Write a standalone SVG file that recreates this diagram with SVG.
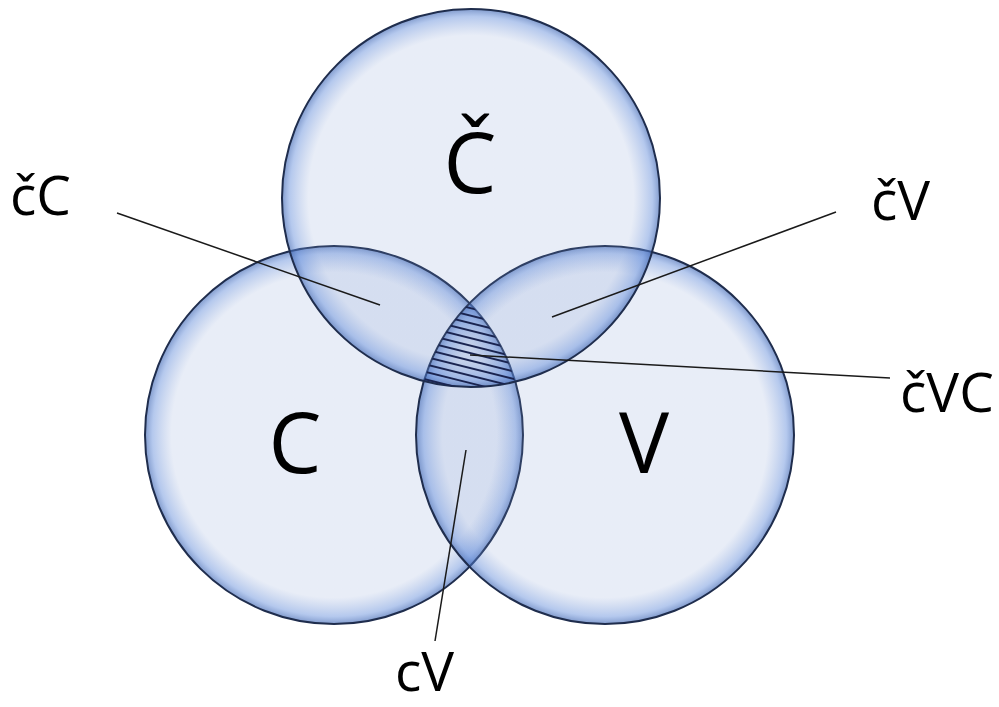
<svg xmlns="http://www.w3.org/2000/svg" width="999" height="707" viewBox="0 0 999 707">
<style>
.ring{fill:url(#glow);stroke:#1f2d4d;stroke-width:2}
.big{font-family:"Open Sans","Liberation Sans",sans-serif;font-size:84px;fill:#000;text-anchor:middle}
.lbl{font-family:"Open Sans","Liberation Sans",sans-serif;font-size:55px;fill:#000}
.lead{stroke:#1a1a1a;stroke-width:1.5;fill:none}
.hatch{stroke:#1a2450;stroke-width:1.8}
</style>
<defs>
<radialGradient id="glow" cx="0.5" cy="0.5" r="0.5">
<stop offset="0" stop-color="#7895d0" stop-opacity="0.17"/>
<stop offset="0.86" stop-color="#7895d0" stop-opacity="0.17"/>
<stop offset="0.96" stop-color="#5a86d8" stop-opacity="0.45"/>
<stop offset="1" stop-color="#3d64b0" stop-opacity="0.65"/>
</radialGradient>
<clipPath id="cT"><circle cx="471" cy="198" r="189"/></clipPath>
<clipPath id="cL"><circle cx="334" cy="435" r="189"/></clipPath>
<clipPath id="cR"><circle cx="605" cy="435" r="189"/></clipPath>
</defs>
<rect width="999" height="707" fill="#fff"/>
<g id="node-C"><circle class="ring" cx="334" cy="435" r="189"/></g>
<g id="node-V"><circle class="ring" cx="605" cy="435" r="189"/></g>
<g id="node-Ch"><circle class="ring" cx="471" cy="198" r="189"/></g>
<g id="node-ChVC-hatch" clip-path="url(#cT)"><g clip-path="url(#cL)"><g clip-path="url(#cR)">
<path class="hatch" d="M400 268l140 35M400 275.5l140 35M400 283l140 35M400 290.5l140 35M400 298l140 35M400 305.5l140 35M400 313l140 35M400 320.5l140 35M400 328l140 35M400 335.5l140 35M400 343l140 35M400 350.5l140 35M400 358l140 35M400 365.5l140 35M400 373l140 35M400 380.5l140 35M400 388l140 35"/>
</g></g></g>
<g id="texts">
<text class="big" x="470" y="193">Č</text>
<text class="big" x="295" y="473">C</text>
<text class="big" x="644" y="473">V</text>
<text class="lbl" x="10" y="215">čC</text>
<text class="lbl" x="871" y="220">čV</text>
<text class="lbl" x="900" y="412">čVC</text>
<text class="lbl" x="395" y="691">cV</text>
</g>
<g id="connectors">
<line class="lead" x1="117" y1="213" x2="380" y2="305"/>
<line class="lead" x1="836" y1="212" x2="552" y2="317"/>
<line class="lead" x1="890" y1="378" x2="470" y2="355"/>
<line class="lead" x1="435" y1="641" x2="466" y2="450"/>
</g>
</svg>
